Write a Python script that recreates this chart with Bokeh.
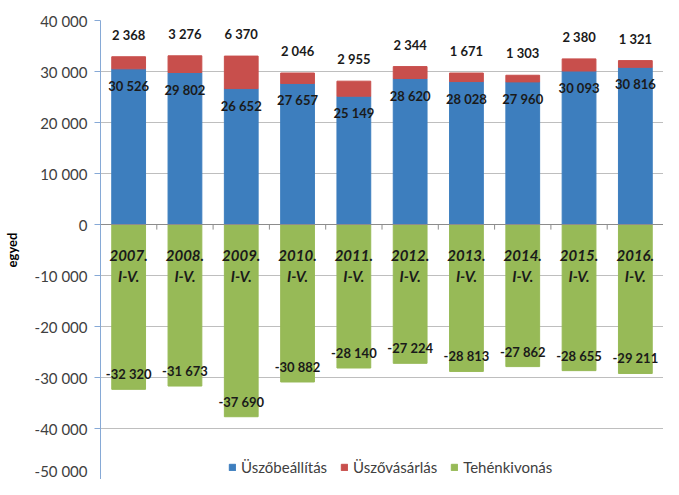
from bokeh.plotting import figure
from bokeh.models import Span, FixedTicker, ColumnDataSource
from bokeh.core.properties import value
from bokeh.embed import file_html
from bokeh.resources import INLINE

categories = ["2007.\nI-V.", "2008.\nI-V.", "2009.\nI-V.", "2010.\nI-V.", "2011.\nI-V.",
              "2012.\nI-V.", "2013.\nI-V.", "2014.\nI-V.", "2015.\nI-V.", "2016.\nI-V."]
heifer_placement = [30526, 29802, 26652, 27657, 25149, 28620, 28028, 27960, 30093, 30816]
heifer_purchase = [2368, 3276, 6370, 2046, 2955, 2344, 1671, 1303, 2380, 1321]
cow_culling = [-32320, -31673, -37690, -30882, -28140, -27224, -28813, -27862, -28655, -29211]
series_names = ["Üszőbeállítás", "Üszővásárlás", "Tehénkivonás"]
y_ticks = [-50000, -40000, -30000, -20000, -10000, 0, 10000, 20000, 30000, 40000]

BLUE, RED, GREEN = "#3D7EBE", "#C84F4C", "#97BA57"
FONT = "Lato"


def fmt(v):
    return f"{v:,}".replace(",", " ")


x = list(range(len(categories)))
src = ColumnDataSource(dict(
    x=x,
    cat=categories,
    blue=heifer_placement,
    red_top=[b + r for b, r in zip(heifer_placement, heifer_purchase)],
    green=cow_culling,
    blue_lbl=[fmt(v) for v in heifer_placement],
    red_lbl=[fmt(v) for v in heifer_purchase],
    green_lbl=[fmt(v) for v in cow_culling],
))

p = figure(width=663, height=479, x_range=(-0.5, len(categories) - 0.5),
           y_range=(y_ticks[0], y_ticks[-1]),
           output_backend="svg", toolbar_location=None, x_axis_location=None,
           min_border_left=98, min_border_right=0, min_border_top=20, min_border_bottom=0)
p.outline_line_color = None
p.xgrid.visible = False
p.ygrid.ticker = FixedTicker(ticks=y_ticks)
p.ygrid.grid_line_color = "#BEBEBE"

ax = p.yaxis[0]
ax.ticker = FixedTicker(ticks=y_ticks)
ax.major_label_overrides = {t: fmt(t) for t in y_ticks}
ax.axis_line_color = "#86A9D6"
ax.major_tick_line_color = "#86A9D6"
ax.major_tick_out = 6
ax.major_tick_in = 0
ax.minor_tick_out = 0
ax.minor_tick_in = 0
ax.major_label_text_font = FONT
ax.major_label_text_font_size = "15px"
ax.major_label_text_color = "#404040"
ax.major_label_standoff = 7
ax.axis_label = "egyed"
ax.axis_label_text_font = FONT
ax.axis_label_text_font_style = "bold"
ax.axis_label_text_font_size = "13px"
ax.axis_label_text_color = "#000000"
ax.axis_label_standoff = 12

W = 0.6
p.vbar(x="x", bottom=0, top="blue", width=W, color=BLUE, source=src, legend_label=series_names[0])
p.vbar(x="x", bottom="blue", top="red_top", width=W, color=RED, source=src, legend_label=series_names[1])
p.vbar(x="x", bottom=0, top="green", width=W, color=GREEN, source=src, legend_label=series_names[2])

p.add_layout(Span(location=0, dimension="width", line_color="#8C8C8C", line_width=1))
bounds = [i + 0.5 for i in x]
p.segment(x0=bounds, y0=[0] * len(bounds), x1=bounds, y1=[-1000] * len(bounds),
          line_color="#8C8C8C", line_width=1)

common = dict(text_font=value(FONT), text_font_style="bold", text_font_size="13px",
              text_color="#1A1A1A", text_align="center", text_baseline="middle", source=src)
p.text(x="x", y="red_top", text="red_lbl", y_offset=-22, **common)
p.text(x="x", y="blue", text="blue_lbl", y_offset=17, **common)
p.text(x="x", y="green", text="green_lbl", y_offset=-15, **common)
p.text(x="x", y=0, text="cat", text_font=value(FONT), text_font_style="bold italic",
       text_font_size="15px", text_color="#1A1A1A", text_align="center",
       text_baseline="top", y_offset=21, text_line_height=1.2, source=src)

lg = p.legend[0]
lg.orientation = "horizontal"
lg.location = (128, 3)
lg.border_line_color = None
lg.background_fill_alpha = 0
lg.label_text_font = FONT
lg.label_text_font_size = "15px"
lg.label_text_color = "#404040"
lg.glyph_width = 8
lg.glyph_height = 8
lg.label_standoff = 5
lg.spacing = 13
lg.padding = 2
lg.margin = 0
lg.label_height = 14

open("out.html", "w").write(file_html(p, INLINE))
